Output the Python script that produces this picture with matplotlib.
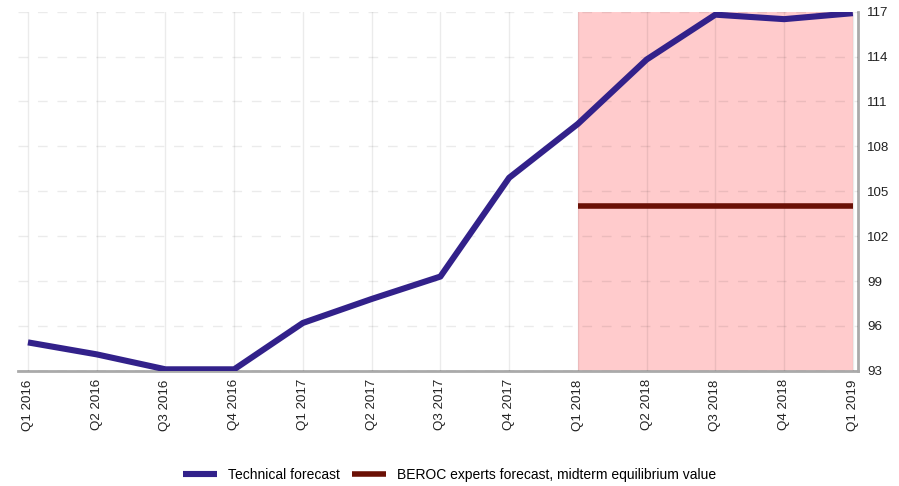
import numpy as np
import matplotlib.pyplot as plt

plt.rcParams['font.family'] = ['Liberation Sans', 'DejaVu Sans']

quarters = ["Q1 2016", "Q2 2016", "Q3 2016", "Q4 2016", "Q1 2017", "Q2 2017", "Q3 2017",
            "Q4 2017", "Q1 2018", "Q2 2018", "Q3 2018", "Q4 2018", "Q1 2019"]
technical = [94.9, 94.1, 93.1, 93.1, 96.2, 97.8, 99.3, 105.9, 109.5, 113.8, 116.8, 116.5, 116.9]
beroc_start = "Q1 2018"
beroc_value = 104.0
yticks = [93, 96, 99, 102, 105, 108, 111, 114, 117]

x = np.arange(len(quarters))
i0 = quarters.index(beroc_start)

fig = plt.figure(figsize=(8.99, 4.86), dpi=100)
ax = fig.add_axes([0.020, 0.237, 0.934, 0.739])

ax.axvspan(x[i0], x[-1], color="#ffcbcc", zorder=0, lw=0)
ax.plot(x, technical, color="#32218a", lw=4.4, solid_capstyle="butt",
        label="Technical forecast", zorder=3)
ax.plot(x[i0:], [beroc_value] * len(x[i0:]), color="#6a1005", lw=4.0,
        solid_capstyle="butt", label="BEROC experts forecast, midterm equilibrium value", zorder=3)

ax.set_xlim(-0.145, 12.07)
ax.set_ylim(93, 117)
ax.set_xticks(x)
ax.set_xticklabels(quarters, rotation=90, fontsize=9.4)
ax.set_yticks(yticks)
ax.yaxis.tick_right()
ax.tick_params(axis="both", length=0, labelsize=9.6, colors="#222222")
ax.tick_params(axis="x", pad=6)
ax.tick_params(axis="y", pad=7)

ax.grid(axis="x", color="#000000", alpha=0.08, lw=1)
ax.grid(axis="y", color="#000000", alpha=0.08, lw=1, ls=(0, (7, 7)))
ax.set_axisbelow(False)

for s in ["top", "left"]:
    ax.spines[s].set_visible(False)
for s in ["bottom", "right"]:
    ax.spines[s].set_color("#aaaaaa")
    ax.spines[s].set_linewidth(2)

fig.legend(loc="lower center", bbox_to_anchor=(0.5, -0.018), ncol=2, frameon=False,
           fontsize=10, handlelength=2.45, columnspacing=0.85, handletextpad=0.8)

fig.savefig("out.png", dpi=100)
